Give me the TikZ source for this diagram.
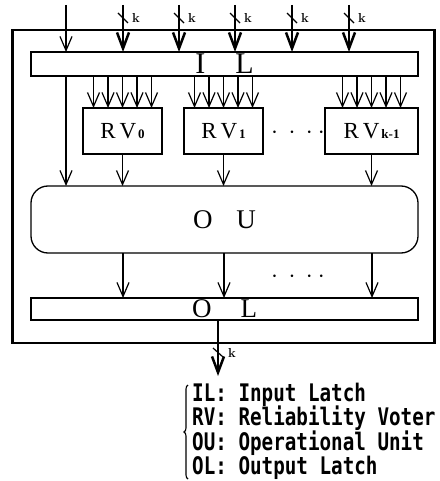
\documentclass[tikz,border=0pt]{standalone}
\usepackage{fontspec}
\newfontfamily\legendfont[FakeStretch=0.795]{DejaVu Sans Mono}
\newfontfamily\boxfont{Liberation Serif}
\usetikzlibrary{arrows.meta,decorations.pathreplacing}
\begin{document}
\begin{tikzpicture}[x=1pt,y=-1pt,
  arr/.style={line width=1.2pt,-{Straight Barb[length=14pt,width=12pt]}},
  bus/.style={line width=2.5pt,-{Straight Barb[length=16pt,width=12pt]}},
  box/.style={draw,line width=1.3pt,inner sep=0pt,outer sep=0pt},
  bigfont/.style={font=\boxfont\fontsize{30}{30}\selectfont},
  midfont/.style={font=\boxfont\fontsize{27}{27}\selectfont},
  rvfont/.style={font=\boxfont\fontsize{23}{23}\selectfont},
  kfont/.style={font=\fontsize{13}{13}\selectfont\bfseries},
  dotfont/.style={font=\fontsize{26}{26}\selectfont,inner sep=0pt},
  legfont/.style={font=\legendfont\bfseries\fontsize{24.2}{24.2}\selectfont,inner sep=0pt,anchor=base west},
  tick/.style={line width=1.2pt}
]
\useasboundingbox (0,0) rectangle (439,481);
\newcommand{\subs}[1]{{\fontsize{13}{13}\selectfont\bfseries #1}}
% outer frame
\node[draw,line width=2.6pt,inner sep=0pt,minimum width=422pt,minimum height=313pt] (outer) at (223.5,186.5) {};
% latches and unit
\node[box,bigfont,minimum width=387pt,minimum height=24pt] (IL) at (224.5,64) {I\hspace{30pt}L\hspace{7pt}};
\node[box,midfont,rounded corners=17pt,minimum width=387pt,minimum height=67pt] (OU) at (224.5,219.5) {O\hspace{24pt}U\hspace{16pt}};
\node[box,midfont,minimum width=387pt,minimum height=22pt] (OL) at (224.5,309) {O\hspace{29pt}L\hspace{17pt}};
% voters
\node[box,rvfont,minimum width=79pt,minimum height=46pt] (RV0) at (122.5,131) {R\hspace{4pt}V\hspace{2pt}\subs{0}};
\node[box,rvfont,minimum width=79pt,minimum height=46pt] (RV1) at (223.5,131) {R\hspace{4pt}V\hspace{2pt}\subs{1}};
\node[box,rvfont,minimum width=93pt,minimum height=46pt] (RVk) at (371.5,131) {R\hspace{4pt}V\hspace{2pt}\subs{k{-}1}};
\node[dotfont] (dotsA) at (298,133) {$\cdot\hspace{5pt}\cdot\hspace{5pt}\cdot\hspace{5pt}\cdot$};
\node[dotfont] (dotsB) at (298,277) {$\cdot\hspace{5pt}\cdot\hspace{5pt}\cdot\hspace{5pt}\cdot$};
% inputs
\coordinate (in0) at (66,5);
\draw[arr] (in0) -- (in0 |- IL.north);
\foreach \x [count=\i] in {123,179,235,292,349} {
  \coordinate (in\i) at (\x,5);
  \draw[bus] (in\i) -- (in\i |- IL.north);
  \draw[tick] (\x-5,13) -- (\x+5,23);
  \node[kfont,inner sep=0pt] (kin\i) at (\x+13,18) {k};
}
% IL -> OU direct
\draw[arr] (in0 |- IL.south) -- (in0 |- OU.north);
% IL -> RV
\foreach \n in {RV0,RV1,RVk} {
  \foreach \d in {-29,-14.5,0,14.5,29} {
    \draw[arr] ([xshift=\d pt]\n.north |- IL.south) -- ([xshift=\d pt]\n.north);
  }
  \draw[arr] (\n.south) -- (\n.south |- OU.north);
}
% OU -> OL
\foreach \x in {123,224,372} {
  \coordinate (ou\x) at (\x,253);
  \draw[arr] (ou\x |- OU.south) -- (ou\x |- OL.north);
}
% output
\coordinate (outp) at (218,376);
\draw[bus] (outp |- OL.south) -- (outp);
\draw[tick] (213,348) -- (223,357);
\node[kfont,inner sep=0pt] (kout) at (232,353) {k};
% legend
\node[legfont] (leg1) at (192,401) {IL: Input Latch};
\node[legfont] (leg2) at (192,425.5) {RV: Reliability Voter};
\node[legfont] (leg3) at (192,450) {OU: Operational Unit};
\node[legfont] (leg4) at (192,474.5) {OL: Output Latch};
\coordinate (bt) at (188,385);
\coordinate (bb) at (188,479);
\draw[line width=1.1pt,decorate,decoration={brace,amplitude=4pt}] (bb) -- (bt);
\end{tikzpicture}
\end{document}
